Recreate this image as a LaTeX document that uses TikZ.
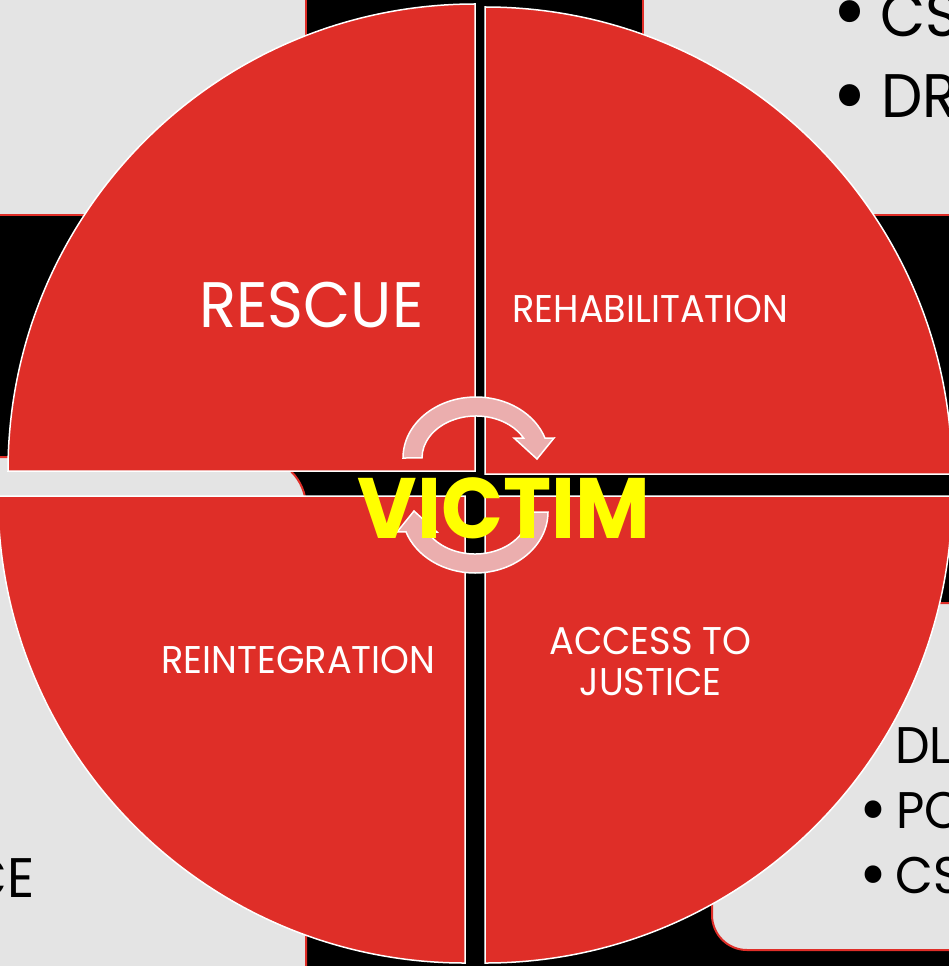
\documentclass[tikz,border=0pt]{standalone}
\usepackage{fontspec}
\setmainfont{Poppins}[FakeStretch=0.95]
\definecolor{piered}{RGB}{223,46,40}
\definecolor{panelgray}{RGB}{228,228,228}
\definecolor{arrowpink}{RGB}{235,174,174}
\definecolor{victimyellow}{RGB}{255,255,0}

\begin{document}
\begin{tikzpicture}[x=0.02cm, y=-0.02cm,
  panel/.style={fill=panelgray, draw=piered, line width=0.04cm},
  quarter/.style={fill=piered, draw=white, line width=0.03cm},
  turn/.style={fill=arrowpink, draw=white, line width=0.03cm},
  stage/.style={text=white, inner sep=0, anchor=base, font=\fontsize{22}{23.3}\selectfont},
  listtext/.style={text=black, inner sep=0, anchor=base west}]

  \useasboundingbox (0,0) rectangle (949,966);
  \clip (0,0) rectangle (949,966);
  \fill[black] (0,0) rectangle (949,966);

  \filldraw[panel] (-50,-50) rectangle (306,215);
  \filldraw[panel] (643,-50) rectangle (1000,215);
  \filldraw[panel, rounded corners=1cm] (-100,457) rectangle (306,1100);
  \filldraw[panel, rounded corners=0.7cm] (712,603) rectangle (1100,950);

  \node[listtext, font=\fontsize{35}{40}\selectfont] (cs top) at (880,37) {CS};
  \node[listtext, anchor=base, font=\fontsize{51}{55}\selectfont] (bullet cs top) at (850,42) {•};
  \node[listtext, font=\fontsize{35}{40}\selectfont] (dr) at (881,118) {DR};
  \node[listtext, anchor=base, font=\fontsize{51}{55}\selectfont] (bullet dr) at (850,126) {•};
  \node[listtext, font=\fontsize{29.3}{33}\selectfont] (dl) at (895,763) {DL};
  \node[listtext, font=\fontsize{29.3}{33}\selectfont] (po) at (896,828) {PO};
  \node[listtext, anchor=base, font=\fontsize{40.7}{44}\selectfont] (bullet po) at (873,833) {•};
  \node[listtext, font=\fontsize{29.3}{33}\selectfont] (cs bottom) at (895,893) {CS};
  \node[listtext, anchor=base, font=\fontsize{40.7}{44}\selectfont] (bullet cs bottom) at (873,898) {•};
  \node[listtext, anchor=base east, font=\fontsize{31.7}{36}\selectfont] (ce) at (35,897) {CE};

  \filldraw[quarter] (475,471) -- (8,471) arc[start angle=180, end angle=270, radius=467] -- cycle;
  \filldraw[quarter] (485,474) -- (485,7) arc[start angle=270, end angle=360, radius=467] -- cycle;
  \filldraw[quarter] (465,496) -- (-2,496) arc[start angle=180, end angle=90, radius=467] -- cycle;
  \filldraw[quarter] (485,496) -- (952,496) arc[start angle=0, end angle=90, radius=467] -- cycle;

  \node[stage, font=\fontsize{36.6}{40}\selectfont] (rescue) at (311.5,327) {RESCUE};
  \node[stage] (rehabilitation) at (650.5,322) {REHABILITATION};
  \node[stage] (reintegration) at (298.5,673) {REINTEGRATION};
  \node[stage, align=center, anchor=north] (access) at (650.5,627) {ACCESS TO\\JUSTICE};

  \begin{scope}[shift={(476,458)}]
    \filldraw[turn] (-73,0) arc[start angle=180, end angle=341, x radius=73, y radius=61]
      -- (78,-20) -- (61,1) -- (38,-20) -- (47.5,-20)
      arc[start angle=331.6, end angle=180, x radius=54, y radius=42] -- cycle;
  \end{scope}
  \begin{scope}[shift={(475,512)}, rotate=180]
    \filldraw[turn] (-73,0) arc[start angle=180, end angle=341, x radius=73, y radius=61]
      -- (78,-20) -- (61,1) -- (38,-20) -- (47.5,-20)
      arc[start angle=331.6, end angle=180, x radius=54, y radius=42] -- cycle;
  \end{scope}

  \node[inner sep=0, anchor=base, text=victimyellow, font=\fontsize{48.8}{50}\selectfont\bfseries] (victim) at (504,538) {VICTIM};
\end{tikzpicture}
\end{document}
